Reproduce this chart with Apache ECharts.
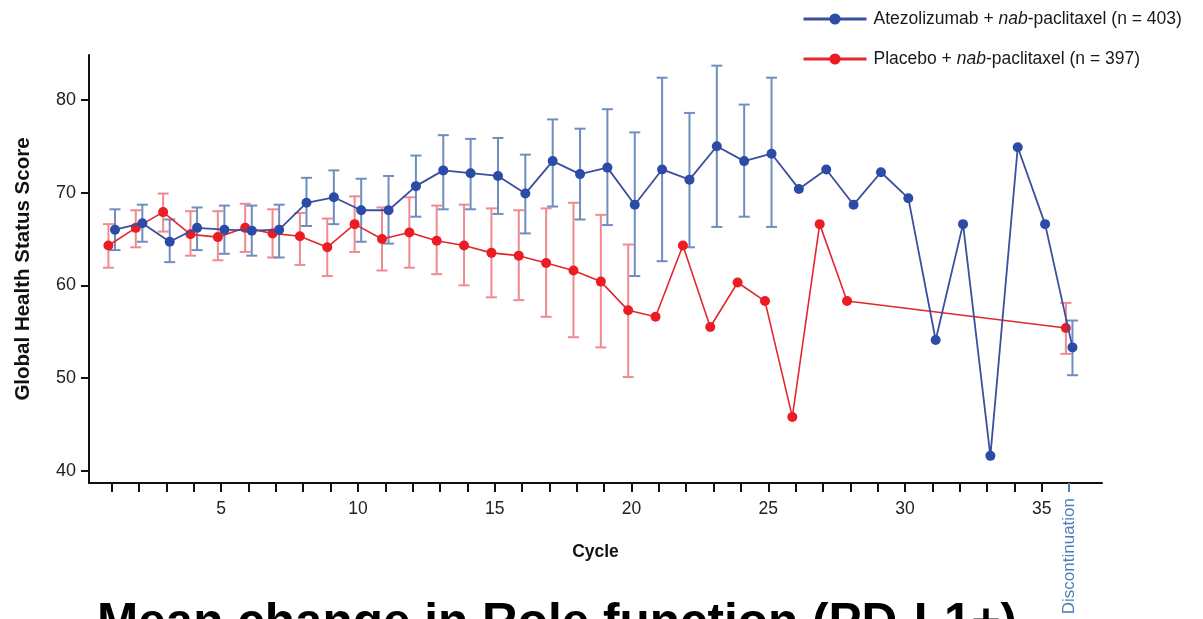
<!DOCTYPE html>
<html>
<head>
<meta charset="utf-8">
<script src="https://cdn.jsdelivr.net/npm/echarts@6/dist/echarts.min.js"></script>
<style>
  html, body { margin: 0; padding: 0; background: #ffffff; }
  #chart { width: 1203px; height: 619px; }
</style>
</head>
<body>
<div id="chart"></div>
<script>
// Treatment cycles; the last position holds the discontinuation visit
const cycles = [1, 2, 3, 4, 5, 6, 7, 8, 9, 10, 11, 12, 13, 14, 15, 16, 17, 18,
  19, 20, 21, 22, 23, 24, 25, 26, 27, 28, 29, 30, 31, 32, 33, 34, 35, 36];
const xTickLabels = [5, 10, 15, 20, 25, 30, 35];
const discontinuationCycle = 36;
const discontinuationLabel = 'Discontinuation';
const yTickValues = [40, 50, 60, 70, 80];

const atezoName = 'Atezolizumab + nab-paclitaxel (n = 403)';
const placeboName = 'Placebo + nab-paclitaxel (n = 397)';

// Mean Global Health Status score per cycle (with 95% CI where reported)
const atezoMean = [66.0, 66.7, 64.7, 66.2, 66.0, 65.9, 66.0, 68.9, 69.5, 68.1,
  68.1, 70.7, 72.4, 72.1, 71.8, 69.9, 73.4, 72.0, 72.7, 68.7,
  72.5, 71.4, 75.0, 73.4, 74.2, 70.4, 72.5, 68.7, 72.2, 69.4,
  54.1, 66.6, 41.6, 74.9, 66.6, 53.3];
const atezoLow = [63.8, 64.7, 62.5, 63.8, 63.4, 63.2, 63.0, 66.4, 66.6, 64.7,
  64.5, 67.4, 68.2, 68.2, 67.7, 65.6, 68.5, 67.1, 66.5, 61.0,
  62.6, 64.1, 66.3, 67.4, 66.3, null, null, null, null, null,
  null, null, null, null, null, 50.3];
const atezoHigh = [68.2, 68.7, 67.1, 68.4, 68.6, 68.6, 68.7, 71.6, 72.4, 71.5,
  71.8, 74.0, 76.2, 75.8, 75.9, 74.1, 77.9, 76.9, 79.0, 76.5,
  82.4, 78.6, 83.7, 79.5, 82.4, null, null, null, null, null,
  null, null, null, null, null, 56.2];

const placeboMean = [64.3, 66.2, 67.9, 65.5, 65.2, 66.2, 65.6, 65.3, 64.1, 66.6,
  65.0, 65.7, 64.8, 64.3, 63.5, 63.2, 62.4, 61.6, 60.4, 57.3,
  56.6, 64.3, 55.5, 60.3, 58.3, 45.8, 66.6, 58.3, null, null,
  null, null, null, null, null, 55.4];
const placeboLow = [61.9, 64.1, 65.8, 63.2, 62.7, 63.6, 63.0, 62.2, 61.0, 63.6,
  61.6, 61.9, 61.2, 60.0, 58.7, 58.4, 56.6, 54.4, 53.3, 50.1,
  null, null, null, null, null, null, null, null, null, null,
  null, null, null, null, null, 52.6];
const placeboHigh = [66.6, 68.1, 69.9, 68.0, 68.0, 68.8, 68.2, 67.8, 67.2, 69.6,
  68.4, 69.5, 68.6, 68.7, 68.3, 68.1, 68.3, 68.9, 67.6, 64.4,
  null, null, null, null, null, null, null, null, null, null,
  null, null, null, null, null, 58.1];

// ---- styling ----
const SANS = "'Liberation Sans', Arial, sans-serif";
const BLUE_DOT = '#2c4ba6';
const BLUE_LINE = '#3b4f9e';
const BLUE_ERR = '#6f8dbf';
const RED_DOT = '#ec1c24';
const RED_LINE = '#e2272d';
const RED_ERR = '#ef8b8f';
const DODGE = 0.12;   // horizontal offset so the two arms do not overlap

function points(mean, shift) {
  const out = [];
  cycles.forEach((c, i) => { if (mean[i] != null) out.push([c + shift, mean[i]]); });
  return out;
}
function intervals(low, high, shift) {
  const out = [];
  cycles.forEach((c, i) => {
    if (low[i] != null && high[i] != null) out.push([c + shift, low[i], high[i]]);
  });
  return out;
}
function errorBar(color) {
  return function (params, api) {
    const x = api.value(0);
    const lo = api.coord([x, api.value(1)]);
    const hi = api.coord([x, api.value(2)]);
    const half = 5.5;
    const style = { stroke: color, lineWidth: 2, fill: null };
    return {
      type: 'group',
      children: [
        { type: 'line', shape: { x1: hi[0], y1: hi[1], x2: lo[0], y2: lo[1] }, style: style },
        { type: 'line', shape: { x1: hi[0] - half, y1: hi[1], x2: hi[0] + half, y2: hi[1] }, style: style },
        { type: 'line', shape: { x1: lo[0] - half, y1: lo[1], x2: lo[0] + half, y2: lo[1] }, style: style }
      ]
    };
  };
}

const chart = echarts.init(document.getElementById('chart'), null, { renderer: 'canvas' });

const xBase = {
  type: 'value',
  min: 0.17,
  max: 37.2,
  splitLine: { show: false }
};

chart.setOption({
  animation: false,
  backgroundColor: '#ffffff',
  grid: { left: 89, right: 101, top: 55, bottom: 136 },
  legend: {
    data: [atezoName, placeboName],
    orient: 'vertical',
    left: 797,
    top: 5,
    itemWidth: 63,
    itemHeight: 14,
    itemGap: 22,
    lineStyle: { width: 3 },
    formatter: name => name.replace('nab', '{i|nab}'),
    textStyle: {
      fontFamily: SANS, fontSize: 17.5, color: '#1a1a1a', padding: [0, 0, 0, 2],
      rich: { i: { fontFamily: SANS, fontSize: 17.5, fontStyle: 'italic', color: '#1a1a1a' } }
    }
  },
  xAxis: [
    Object.assign({}, xBase, {
      name: 'Cycle',
      nameLocation: 'middle',
      nameGap: 60,
      nameTextStyle: { fontFamily: SANS, fontSize: 17.5, fontWeight: 'bold', color: '#111' },
      axisLine: { show: true, onZero: false, lineStyle: { color: '#111', width: 2 } },
      axisTick: { show: true, length: 9, customValues: cycles.slice(0, 35), lineStyle: { color: '#111', width: 2 } },
      axisLabel: {
        customValues: xTickLabels, margin: 17,
        fontFamily: SANS, fontSize: 17.5, color: '#222'
      }
    }),
    Object.assign({}, xBase, {
      position: 'bottom',
      axisLine: { show: false },
      axisTick: { show: true, length: 9, customValues: [discontinuationCycle], lineStyle: { color: '#4f81bd', width: 2 } },
      axisLabel: {
        customValues: [discontinuationCycle], rotate: 90, margin: 15,
        formatter: () => discontinuationLabel,
        fontFamily: SANS, fontSize: 17, color: '#4a7ebb'
      }
    })
  ],
  yAxis: {
    type: 'value',
    min: 38.67,
    max: 84.85,
    name: 'Global Health Status Score',
    nameLocation: 'middle',
    nameGap: 55,
    nameTextStyle: { fontFamily: SANS, fontSize: 20.5, fontWeight: 'bold', color: '#111' },
    splitLine: { show: false },
    axisLine: { show: true, lineStyle: { color: '#111', width: 2 } },
    axisTick: { show: true, length: 8, customValues: yTickValues, lineStyle: { color: '#111', width: 2 } },
    axisLabel: { customValues: yTickValues, margin: 13, fontFamily: SANS, fontSize: 18, color: '#222' }
  },
  graphic: [{
    type: 'text',
    left: 97,
    top: 599,
    style: {
      text: 'Mean change in Role function (PD-L1+)',
      font: "bold 49.5px " + SANS,
      fill: '#000000'
    }
  }],
  series: [
    {
      name: 'placeboCI', type: 'custom', xAxisIndex: 0, z: 2,
      renderItem: errorBar(RED_ERR),
      encode: { x: 0, y: [1, 2] },
      data: intervals(placeboLow, placeboHigh, -DODGE)
    },
    {
      name: 'atezoCI', type: 'custom', xAxisIndex: 0, z: 2,
      renderItem: errorBar(BLUE_ERR),
      encode: { x: 0, y: [1, 2] },
      data: intervals(atezoLow, atezoHigh, DODGE)
    },
    {
      name: placeboName, type: 'line', xAxisIndex: 0, z: 3,
      symbol: 'circle', symbolSize: 10,
      lineStyle: { color: RED_LINE, width: 1.6 },
      itemStyle: { color: RED_DOT },
      data: points(placeboMean, -DODGE)
    },
    {
      name: atezoName, type: 'line', xAxisIndex: 0, z: 4,
      symbol: 'circle', symbolSize: 10,
      lineStyle: { color: BLUE_LINE, width: 1.8 },
      itemStyle: { color: BLUE_DOT },
      data: points(atezoMean, DODGE)
    }
  ]
});
</script>
</body>
</html>
